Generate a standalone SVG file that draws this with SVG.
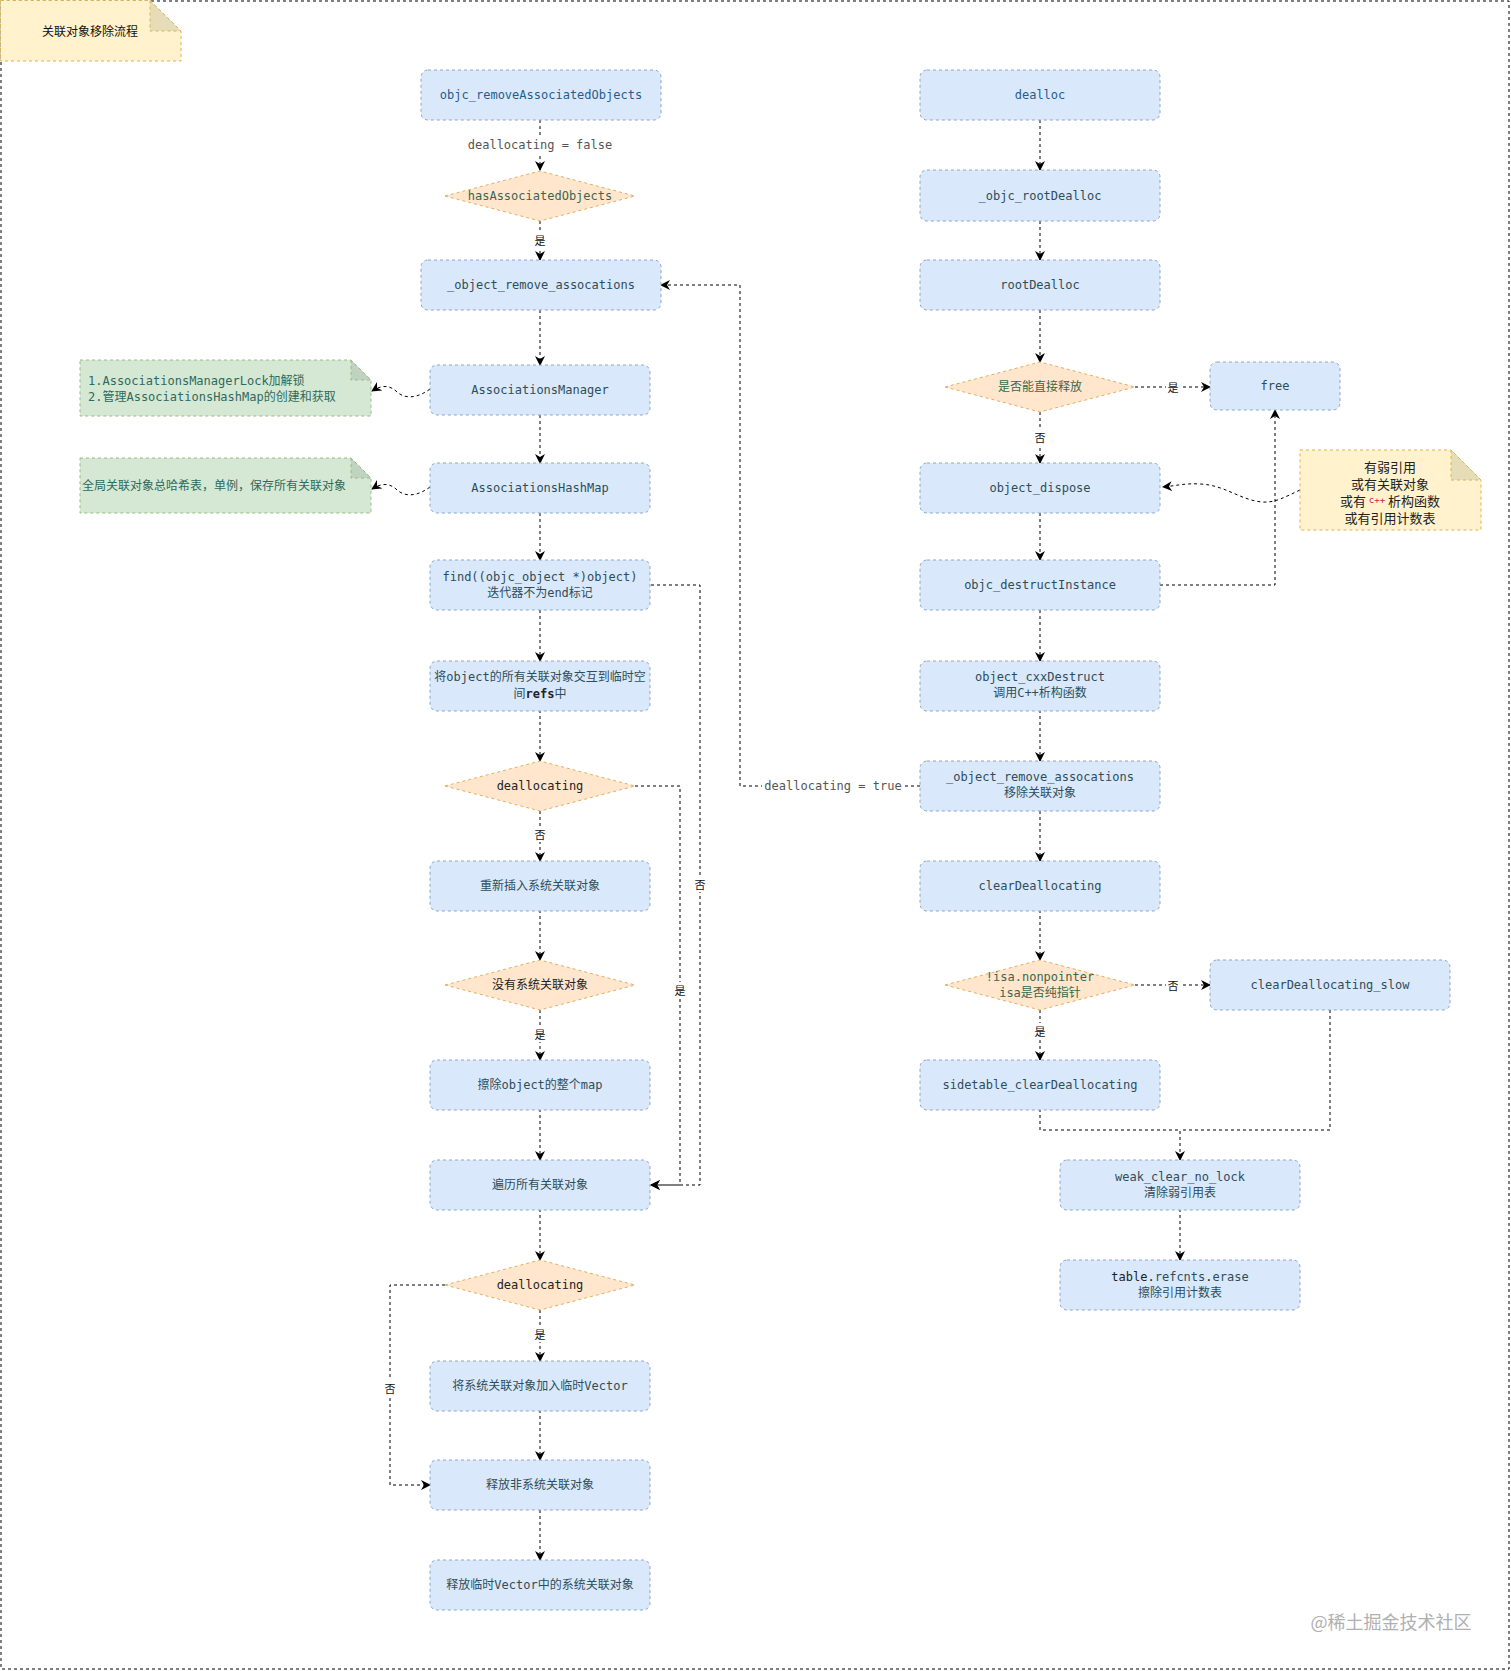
<svg xmlns="http://www.w3.org/2000/svg" width="1511" height="1671" viewBox="0 0 1511 1671">
<defs>
<marker id="arr" viewBox="0 0 10 10" refX="9" refY="5" markerWidth="10" markerHeight="10" markerUnits="userSpaceOnUse" orient="auto">
<path d="M0,0 L10,5 L0,10 L3,5 z" fill="#000"/>
</marker>
<style>
.box{fill:#dae8fc;stroke:#8ea6c8;stroke-width:1;stroke-dasharray:3 3}
.dia{fill:#ffe6cc;stroke:#e0b060;stroke-width:1;stroke-dasharray:3 3}
.ynote{fill:#fff2cc;stroke:#d6b656;stroke-width:1;stroke-dasharray:3 3}
.yfold{fill:#e6dcb8;stroke:#d6b656;stroke-width:1;stroke-dasharray:3 3}
.gnote{fill:#d5e8d4;stroke:#9ab88a;stroke-width:1;stroke-dasharray:3 3}
.gfold{fill:#c0d3bf;stroke:#9ab88a;stroke-width:1;stroke-dasharray:3 3}
.t{font-family:"DejaVu Sans Mono","Noto Sans CJK SC",monospace;font-size:12px;fill:#2d4e58;text-anchor:middle;dominant-baseline:central}
.tb{fill:#1f5e8c}
.tg{fill:#3a6650}
.tk{fill:#222}
.lbl{font-family:"DejaVu Sans Mono","Noto Sans CJK SC",monospace;font-size:12px;fill:#555;text-anchor:middle;dominant-baseline:central}
.yn{font-family:"Noto Sans CJK SC",sans-serif;font-size:11px;fill:#111;text-anchor:middle;dominant-baseline:central}
.nt{font-family:"Noto Sans CJK SC",sans-serif;font-size:13px;fill:#222;text-anchor:middle;dominant-baseline:central}
.e{fill:none;stroke:#000;stroke-width:1;stroke-dasharray:3 3}
.bg{fill:#fff}
</style>
</defs>
<rect x="1" y="1" width="1508" height="1668" fill="#fff" stroke="#000" stroke-width="1" stroke-dasharray="3 3"/>

<g id="title">
<path class="ynote" d="M0.5,0.5 H150 L181,31 V61 H0.5 Z"/>
<path class="yfold" d="M150,0.5 V31 H181 Z"/>
<text x="90" y="30" style="font-family:'Noto Sans CJK SC',sans-serif;font-size:12px;fill:#111;text-anchor:middle;dominant-baseline:central">关联对象移除流程</text>
</g>

<g id="connectors">
<path class="e" d="M540,120 V170" marker-end="url(#arr)"/>
<path class="e" d="M540,221 V260" marker-end="url(#arr)"/>
<path class="e" d="M540,310 V365" marker-end="url(#arr)"/>
<path class="e" d="M540,415 V463" marker-end="url(#arr)"/>
<path class="e" d="M540,513 V560" marker-end="url(#arr)"/>
<path class="e" d="M540,610 V661" marker-end="url(#arr)"/>
<path class="e" d="M540,710 V761" marker-end="url(#arr)"/>
<path class="e" d="M540,811 V861" marker-end="url(#arr)"/>
<path class="e" d="M540,910 V960" marker-end="url(#arr)"/>
<path class="e" d="M540,1010 V1060" marker-end="url(#arr)"/>
<path class="e" d="M540,1109 V1160" marker-end="url(#arr)"/>
<path class="e" d="M540,1209 V1260" marker-end="url(#arr)"/>
<path class="e" d="M540,1310 V1361" marker-end="url(#arr)"/>
<path class="e" d="M540,1410 V1460" marker-end="url(#arr)"/>
<path class="e" d="M540,1510 V1560" marker-end="url(#arr)"/>
<path class="e" d="M651,585 H700 V1185 H651" marker-end="url(#arr)"/>
<path class="e" d="M635,786 H680 V1185 H651" marker-end="url(#arr)"/>
<path class="e" d="M445,1285 H390 V1485 H430" marker-end="url(#arr)"/>
<path class="e" d="M430,389 C418,398 405,400 396,391 C388,384 380,386 372,391" marker-end="url(#arr)"/>
<path class="e" d="M430,487 C418,496 405,498 396,489 C388,482 380,484 372,489" marker-end="url(#arr)"/>
<path class="e" d="M1040,120 V170" marker-end="url(#arr)"/>
<path class="e" d="M1040,221 V260" marker-end="url(#arr)"/>
<path class="e" d="M1040,310 V362" marker-end="url(#arr)"/>
<path class="e" d="M1135,387 H1210" marker-end="url(#arr)"/>
<path class="e" d="M1040,412 V463" marker-end="url(#arr)"/>
<path class="e" d="M1300,490 C1285,497 1275,503 1262,502 C1240,500 1225,485 1200,484 C1185,483 1175,486 1163,487" marker-end="url(#arr)"/>
<path class="e" d="M1040,513 V560" marker-end="url(#arr)"/>
<path class="e" d="M1160,585 H1275 V410" marker-end="url(#arr)"/>
<path class="e" d="M1040,610 V661" marker-end="url(#arr)"/>
<path class="e" d="M1040,710 V761" marker-end="url(#arr)"/>
<path class="e" d="M920,786 H740 V285 H661" marker-end="url(#arr)"/>
<path class="e" d="M1040,811 V861" marker-end="url(#arr)"/>
<path class="e" d="M1040,910 V960" marker-end="url(#arr)"/>
<path class="e" d="M1135,985 H1210" marker-end="url(#arr)"/>
<path class="e" d="M1040,1010 V1060" marker-end="url(#arr)"/>
<path class="e" d="M1040,1109 V1130 H1180 V1160" marker-end="url(#arr)"/>
<path class="e" d="M1330,1010 V1130 H1180"/>
<path class="e" d="M1180,1209 V1260" marker-end="url(#arr)"/>

<rect class="bg" x="466" y="137" width="148" height="16"/>
<text class="lbl" x="540" y="145">deallocating = false</text>
<rect class="bg" x="533" y="232" width="14" height="16"/>
<text class="yn" x="540" y="240">是</text>
<rect class="bg" x="533" y="826" width="14" height="16"/>
<text class="yn" x="540" y="834">否</text>
<rect class="bg" x="533" y="1026" width="14" height="16"/>
<text class="yn" x="540" y="1034">是</text>
<rect class="bg" x="533" y="1326" width="14" height="16"/>
<text class="yn" x="540" y="1334">是</text>
<rect class="bg" x="693" y="876" width="14" height="16"/>
<text class="yn" x="700" y="884">否</text>
<rect class="bg" x="673" y="982" width="14" height="16"/>
<text class="yn" x="680" y="990">是</text>
<rect class="bg" x="383" y="1380" width="14" height="16"/>
<text class="yn" x="390" y="1388">否</text>
<rect class="bg" x="1166" y="379" width="14" height="16"/>
<text class="yn" x="1173" y="387">是</text>
<rect class="bg" x="1033" y="429" width="14" height="16"/>
<text class="yn" x="1040" y="437">否</text>
<rect class="bg" x="762" y="778" width="142" height="16"/>
<text class="lbl" x="833" y="786">deallocating = true</text>
<rect class="bg" x="1166" y="977" width="14" height="16"/>
<text class="yn" x="1173" y="985">否</text>
<rect class="bg" x="1033" y="1023" width="14" height="16"/>
<text class="yn" x="1040" y="1031">是</text>
</g>

<g id="n1"><rect class="box" x="421" y="70" width="240" height="50" rx="7"/><text class="t tb" x="541" y="95">objc_removeAssociatedObjects</text></g>
<g id="n2"><polygon class="dia" points="445,196 540,171 635,196 540,221"/><text class="t tg" x="540" y="196">hasAssociatedObjects</text></g>
<g id="n3"><rect class="box" x="421" y="260" width="240" height="50" rx="7"/><text class="t" x="541" y="285">_object_remove_assocations</text></g>
<g id="n4"><rect class="box" x="430" y="365" width="220" height="50" rx="7"/><text class="t" x="540" y="390">AssociationsManager</text></g>
<g id="n5"><rect class="box" x="430" y="463" width="220" height="50" rx="7"/><text class="t" x="540" y="488">AssociationsHashMap</text></g>
<g id="n6"><rect class="box" x="430" y="560" width="220" height="50" rx="7"/><text class="t" x="540" y="577">find((objc_object *)object)</text><text class="t" x="540" y="593">迭代器不为end标记</text></g>
<g id="n7"><rect class="box" x="430" y="661" width="220" height="50" rx="7"/><text class="t" x="540" y="677">将object的所有关联对象交互到临时空</text><text class="t" x="540" y="694">间<tspan class="tk" font-weight="bold">refs</tspan>中</text></g>
<g id="n8"><polygon class="dia" points="445,786 540,761 635,786 540,811"/><text class="t tk" x="540" y="786">deallocating</text></g>
<g id="n9"><rect class="box" x="430" y="861" width="220" height="50" rx="7"/><text class="t" x="540" y="886">重新插入系统关联对象</text></g>
<g id="n10"><polygon class="dia" points="445,985 540,960 635,985 540,1010"/><text class="t tk" x="540" y="985">没有系统关联对象</text></g>
<g id="n11"><rect class="box" x="430" y="1060" width="220" height="50" rx="7"/><text class="t" x="540" y="1085">擦除object的整个map</text></g>
<g id="n12"><rect class="box" x="430" y="1160" width="220" height="50" rx="7"/><text class="t" x="540" y="1185">遍历所有关联对象</text></g>
<g id="n13"><polygon class="dia" points="445,1285 540,1260 635,1285 540,1310"/><text class="t tk" x="540" y="1285">deallocating</text></g>
<g id="n14"><rect class="box" x="430" y="1361" width="220" height="50" rx="7"/><text class="t" x="540" y="1386">将系统关联对象加入临时Vector</text></g>
<g id="n15"><rect class="box" x="430" y="1460" width="220" height="50" rx="7"/><text class="t" x="540" y="1485">释放非系统关联对象</text></g>
<g id="n16"><rect class="box" x="430" y="1560" width="220" height="50" rx="7"/><text class="t" x="540" y="1585">释放临时Vector中的系统关联对象</text></g>

<g id="note1"><path class="gnote" d="M80,360 H351 L371,380 V416 H80 Z"/><path class="gfold" d="M351,360 V380 H371 Z"/>
<text class="t" x="88" y="381" style="text-anchor:start;fill:#2e6a5e">1.AssociationsManagerLock加解锁</text>
<text class="t" x="88" y="397" style="text-anchor:start;fill:#2e6a5e">2.管理AssociationsHashMap的创建和获取</text></g>
<g id="note2"><path class="gnote" d="M80,458 H351 L371,478 V513 H80 Z"/><path class="gfold" d="M351,458 V478 H371 Z"/>
<text class="t" x="82" y="486" style="text-anchor:start;fill:#2e6a5e">全局关联对象总哈希表，单例，保存所有关联对象</text></g>

<g id="r1"><rect class="box" x="920" y="70" width="240" height="50" rx="7"/><text class="t tb" x="1040" y="95">dealloc</text></g>
<g id="r2"><rect class="box" x="920" y="170" width="240" height="51" rx="7"/><text class="t" x="1040" y="196">_objc_rootDealloc</text></g>
<g id="r3"><rect class="box" x="920" y="260" width="240" height="50" rx="7"/><text class="t" x="1040" y="285">rootDealloc</text></g>
<g id="r4"><polygon class="dia" points="945,387 1040,362 1135,387 1040,412"/><text class="t tg" x="1040" y="387">是否能直接释放</text></g>
<g id="r5"><rect class="box" x="1210" y="362" width="130" height="48" rx="7"/><text class="t" x="1275" y="386">free</text></g>
<g id="r6"><rect class="box" x="920" y="463" width="240" height="50" rx="7"/><text class="t" x="1040" y="488">object_dispose</text></g>
<g id="note3"><path class="ynote" d="M1300,450 H1451 L1481,480 V530 H1300 Z"/><path class="yfold" d="M1451,450 V480 H1481 Z"/>
<text class="nt" x="1390" y="466">有弱引用</text>
<text class="nt" x="1390" y="483">或有关联对象</text>
<text class="nt" x="1390" y="500">或有 <tspan style="font-family:'DejaVu Sans Mono',monospace;font-size:9px;fill:#c7254e">c++</tspan> 析构函数</text>
<text class="nt" x="1390" y="517">或有引用计数表</text></g>
<g id="r7"><rect class="box" x="920" y="560" width="240" height="50" rx="7"/><text class="t" x="1040" y="585">objc_destructInstance</text></g>
<g id="r8"><rect class="box" x="920" y="661" width="240" height="50" rx="7"/><text class="t" x="1040" y="677">object_cxxDestruct</text><text class="t" x="1040" y="693">调用C++析构函数</text></g>
<g id="r9"><rect class="box" x="920" y="761" width="240" height="50" rx="7"/><text class="t" x="1040" y="777">_object_remove_assocations</text><text class="t" x="1040" y="793">移除关联对象</text></g>
<g id="r10"><rect class="box" x="920" y="861" width="240" height="50" rx="7"/><text class="t" x="1040" y="886">clearDeallocating</text></g>
<g id="r11"><polygon class="dia" points="945,985 1040,960 1135,985 1040,1010"/><text class="t tg" x="1040" y="977">!isa.nonpointer</text><text class="t tg" x="1040" y="993">isa是否纯指针</text></g>
<g id="r12"><rect class="box" x="1210" y="960" width="240" height="50" rx="7"/><text class="t" x="1330" y="985">clearDeallocating_slow</text></g>
<g id="r13"><rect class="box" x="920" y="1060" width="240" height="50" rx="7"/><text class="t" x="1040" y="1085">sidetable_clearDeallocating</text></g>
<g id="r14"><rect class="box" x="1060" y="1160" width="240" height="50" rx="7"/><text class="t" x="1180" y="1177">weak_clear_no_lock</text><text class="t" x="1180" y="1193">清除弱引用表</text></g>
<g id="r15"><rect class="box" x="1060" y="1260" width="240" height="50" rx="7"/><text class="t" x="1180" y="1277"><tspan class="tk">table.</tspan>refcnts<tspan class="tk">.</tspan>erase</text><text class="t" x="1180" y="1293">擦除引用计数表</text></g>

<text x="1391" y="1621" style="font-family:'Noto Sans CJK SC',sans-serif;font-size:18px;fill:#b0b0b0;text-anchor:middle;dominant-baseline:central">@稀土掘金技术社区</text>
</svg>
